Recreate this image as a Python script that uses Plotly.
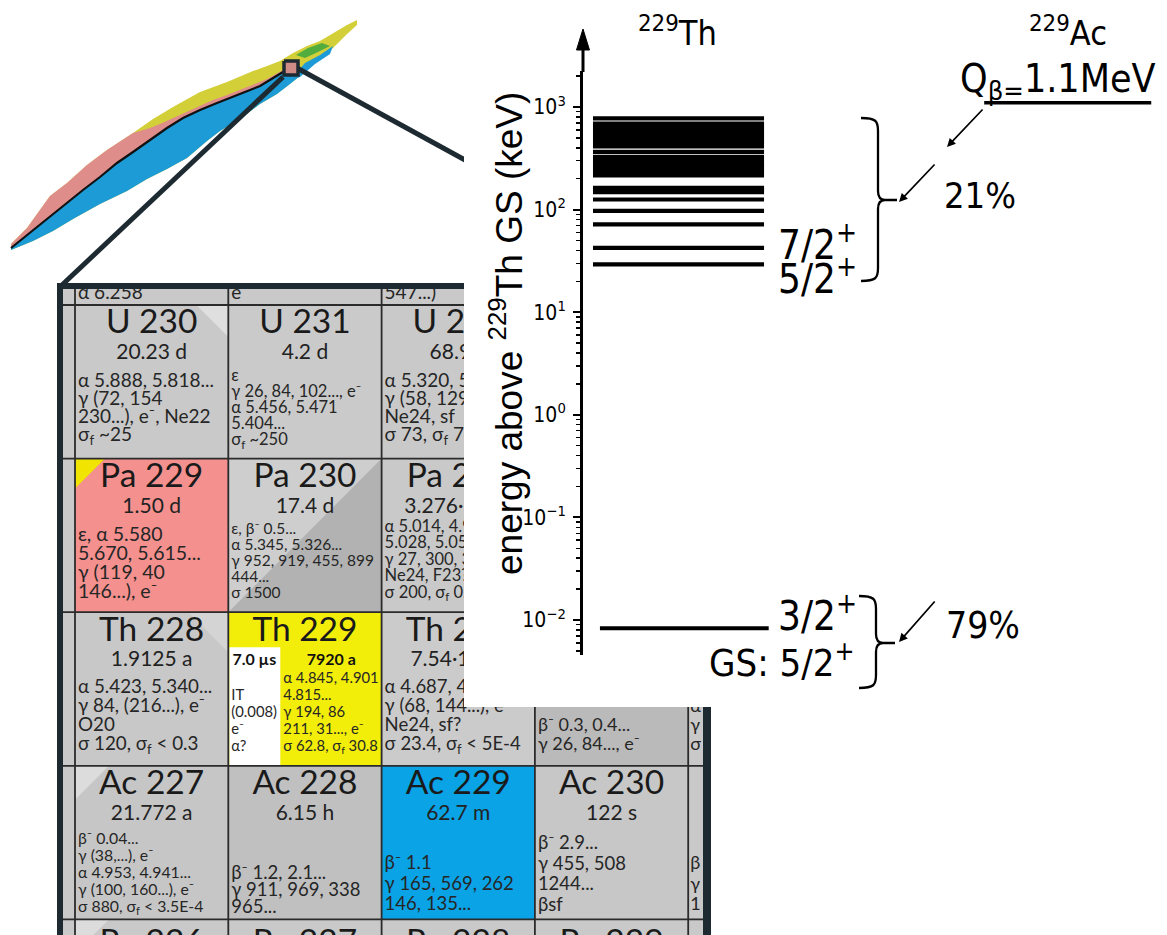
import numpy as np
import plotly.graph_objects as go

W, H = 1167, 935

# ---------------------------------------------------------------------------
# 229Th level scheme (energies above the 229Th ground state, keV)
# ---------------------------------------------------------------------------
th229_levels_keV = [29.19, 42.43, 71.83, 97.14, 125.4, 148.0, 155.0, 163.0,
                    216.0, 233.0, 246.0, 260.0, 275.0, 291.0, 308.0, 326.0,
                    366.0,
                    412.0, 441.0, 466.0, 493.0, 522.0, 552.0, 584.0, 617.0, 653.0, 690.0,
                    775.0]
th229_isomer_keV = 0.0083
ac229_q_beta_keV = 1100.0
branch_excited = "21%"
branch_isomer_gs = "79%"

ytick_vals = [1e-2, 1e-1, 1e0, 1e1, 1e2, 1e3]
ytick_text = ["10<sup>\u22122</sup>", "10<sup>\u22121</sup>", "10<sup>0</sup>",
              "10<sup>1</sup>", "10<sup>2</sup>", "10<sup>3</sup>"]

# ---------------------------------------------------------------------------
# Excerpt of the chart of nuclides around 229Th (rows: Z, columns: A)
# ---------------------------------------------------------------------------
cell_names = [["U 230", "U 231", "U 232", "U 233"],
              ["Pa 229", "Pa 230", "Pa 231", "Pa 232"],
              ["Th 228", "Th 229", "Th 230", "Th 231"],
              ["Ac 227", "Ac 228", "Ac 229", "Ac 230"]]
cell_halflives = [["20.23 d", "4.2 d", "68.9 a", "1.592\u00b710<sup>5</sup> a"],
                  ["1.50 d", "17.4 d", "3.276\u00b710<sup>4</sup> a", "1.31 d"],
                  ["1.9125 a", "", "7.54\u00b710<sup>4</sup> a", "25.5 h"],
                  ["21.772 a", "6.15 h", "62.7 m", "122 s"]]
cell_decays = [
    [["\u03b1 5.888, 5.818...", "\u03b3 (72, 154", "230...), e\u207b, Ne22", "\u03c3<sub>f</sub> ~25"],
     ["\u03b5", "\u03b3 26, 84, 102..., e\u207b", "\u03b1 5.456, 5.471", "5.404...", "\u03c3<sub>f</sub> ~250"],
     ["\u03b1 5.320, 5.263", "\u03b3 (58, 129...), e\u207b", "Ne24, sf", "\u03c3 73, \u03c3<sub>f</sub> 74"],
     []],
    [["\u03b5, \u03b1 5.580", "5.670, 5.615...", "\u03b3 (119, 40", "146...), e\u207b"],
     ["\u03b5, \u03b2\u207b 0.5...", "\u03b1 5.345, 5.326...", "\u03b3 952, 919, 455, 899", "444...", "\u03c3 1500"],
     ["\u03b1 5.014, 4.951...", "5.028, 5.059...", "\u03b3 27, 300, 303...", "Ne24, F23?", "\u03c3 200, \u03c3<sub>f</sub> 0.020"],
     []],
    [["\u03b1 5.423, 5.340...", "\u03b3 84, (216...), e\u207b", "O20", "\u03c3 120, \u03c3<sub>f</sub> < 0.3"],
     ["\u03b1 4.845, 4.901", "4.815...", "\u03b3 194, 86", "211, 31..., e\u207b", "\u03c3 62.8, \u03c3<sub>f</sub> 30.8"],
     ["\u03b1 4.687, 4.621...", "\u03b3 (68, 144...), e\u207b", "Ne24, sf?", "\u03c3 23.4, \u03c3<sub>f</sub> < 5E-4"],
     ["\u03b2\u207b 0.3, 0.4...", "\u03b3 26, 84..., e\u207b"]],
    [["\u03b2\u207b 0.04...", "\u03b3 (38,...), e\u207b", "\u03b1 4.953, 4.941...", "\u03b3 (100, 160...), e\u207b", "\u03c3 880, \u03c3<sub>f</sub> < 3.5E-4"],
     ["\u03b2\u207b 1.2, 2.1...", "\u03b3 911, 969, 338", "965..."],
     ["\u03b2\u207b 1.1", "\u03b3 165, 569, 262", "146, 135..."],
     ["\u03b2\u207b 2.9...", "\u03b3 455, 508", "1244...", "\u03b2sf"]],
]
th229_isomer_halflife = "7.0 \u00b5s"
th229_gs_halflife = "7920 a"
th229_isomer_decays = ["IT", "(0.008)", "e\u207b", "\u03b1?"]
row_above_last_lines = ["\u03b1 6.258", "e\u207b", "547...)"]
row_below_names = ["Ra 226", "Ra 227", "Ra 228", "Ra 229"]
col_right_fragments = [["\u03b1", "\u03b3", "\u03c3"], ["\u03b2", "\u03b3", "1"]]

# colour coding of the chart (grey: beta/other, pink: EC, yellow: alpha, blue: beta-)
GREY = "#c9c9c9"
cell_fill = [["#c9c9c9", "#cacaca", "#c9c9c9", "#c9c9c9"],
             ["#f4918f", "#cecece", "#c9c9c9", "#c9c9c9"],
             ["#c8c8c8", "#f3ed0a", "#cbcbcb", "#bababa"],
             ["#c6c6c6", "#c0c0c0", "#0aa3e6", "#c7c7c7"]]

# detail-line layout per cell: (offset of first line below cell top, line step, font size)
detail_layout = [[(77, 18, 19), (72, 16, 16.5), (77, 18, 19), (77, 18, 19)],
                 [(78, 19, 19.5), (72, 16, 15.5), (69, 16.5, 16.5), (77, 18, 19)],
                 [(76, 19, 18.8), (67, 17, 14.8), (76, 19, 18.5), (114, 19, 18)],
                 [(74, 17, 15.8), (109, 17, 18.5), (99, 20.5, 18.5), (79, 20.5, 18.5)]]

# the level-scheme panel is laid over the right part of the nuclide chart
PANEL_X, PANEL_Y = 464.0, 707.0

fig = go.Figure()


def poly(xs, ys, color, line_color=None, lw=0):
    fig.add_trace(go.Scatter(
        x=list(xs) + [xs[0]], y=list(ys) + [ys[0]], mode="lines", fill="toself",
        fillcolor=color, line=dict(width=lw, color=line_color or color),
        hoverinfo="skip", showlegend=False))


def rect(x0, y0, x1, y1, color):
    poly([x0, x1, x1, x0], [y0, y0, y1, y1], color)


def seg(xs, ys, color, width):
    fig.add_trace(go.Scatter(x=xs, y=ys, mode="lines", line=dict(color=color, width=width),
                             hoverinfo="skip", showlegend=False))


def text(xs, ys, labels, size, pos="middle right", color="#262626", family="Lato", reach=0):
    # leave out texts that would lie completely underneath the level-scheme panel
    keep = [i for i in range(len(labels)) if xs[i] - reach < PANEL_X or ys[i] + size * 0.5 > PANEL_Y]
    if not keep:
        return
    fig.add_trace(go.Scatter(x=[xs[i] for i in keep], y=[ys[i] for i in keep], mode="text",
                             text=[labels[i] for i in keep], textposition=pos,
                             textfont=dict(family=family, size=size, color=color),
                             hoverinfo="skip", showlegend=False, cliponaxis=True))


# ---------------------------------------------------------------------------
# Overview of the whole chart of nuclides (thin diagonal band)
# ---------------------------------------------------------------------------
band_top = [(11, 244), (27, 228), (50, 196), (67, 183), (87, 165), (107, 150), (133, 133),
            (153, 119), (173, 107), (187, 99), (200, 92), (227, 82), (253, 71), (267, 66),
            (280, 61), (293, 53), (307, 46), (320, 41), (333, 33), (347, 25), (357, 20)]
band_bottom = [(11, 250), (33, 241), (53, 231), (73, 219), (100, 204), (127, 191), (147, 179),
               (167, 169), (187, 158), (207, 141), (220, 131), (240, 119), (260, 104), (277, 94),
               (290, 84), (300, 76), (310, 66), (320, 59), (333, 48), (347, 34), (357, 25)]
stable_line = [(11, 248), (33, 230), (50, 217), (67, 203), (83, 190), (100, 177), (117, 163),
               (133, 152), (150, 140), (167, 128), (183, 118), (200, 110), (217, 103), (233, 97),
               (250, 90), (260, 86), (283, 72)]
pink_top = [(150, 128), (160, 124), (173, 118), (187, 112), (200, 106), (213, 100), (227, 95),
            (240, 90), (253, 85), (267, 79), (283, 70)]

outline = band_top + band_bottom[::-1]
poly([p[0] for p in outline], [p[1] for p in outline], "#d3cf38")
# neutron-rich side (beta minus)
blue = stable_line + [(295, 72), (300, 76)] + [p for p in band_bottom[::-1] if p[0] <= 290]
poly([p[0] for p in blue], [p[1] for p in blue], "#1c9bd6")
tail_blue = [(290, 80), (305, 63), (320, 55), (333, 46), (330, 54), (315, 64), (300, 77)]
poly([p[0] for p in tail_blue], [p[1] for p in tail_blue], "#1c9bd6")
# proton-rich side (EC / beta plus)
pink = [p for p in band_top if p[0] < 150] + pink_top + stable_line[::-1]
poly([p[0] for p in pink], [p[1] for p in pink], "#df8d8b")
green = [(296, 55), (308, 48), (322, 43), (330, 46), (318, 52), (305, 58)]
poly([p[0] for p in green], [p[1] for p in green], "#52ad3e")
seg([p[0] for p in stable_line], [p[1] for p in stable_line], "#111111", 2.2)

# zoom box and guide lines towards the detail view
FRAME = "#1e2a31"
seg([283, 62], [77, 285], FRAME, 5)
seg([297, 520], [68, 190], FRAME, 5)
poly([284, 298, 298, 284], [61, 61, 75, 75], "#cf8b86", FRAME, 3.5)

# ---------------------------------------------------------------------------
# Detail of the chart of nuclides
# ---------------------------------------------------------------------------
X0, CW = 75.0, 153.3
Y0, RH = 305.0, 153.6
LEFT, RIGHT, TOP, BOTTOM = 62.0, 703.0, 288.0, 940.0
col_edges = [LEFT] + [X0 + i * CW for i in range(5)] + [RIGHT]
row_edges = [TOP] + [Y0 + i * RH for i in range(5)] + [BOTTOM]

for ri in range(len(row_edges) - 1):
    for ci in range(len(col_edges) - 1):
        r, c = ri - 1, ci - 1
        color = cell_fill[r][c] if (0 <= r < 4 and 0 <= c < 4) else GREY
        rect(col_edges[ci], row_edges[ri], col_edges[ci + 1], row_edges[ri + 1], color)


def cell_box(r, c):
    return X0 + c * CW, Y0 + r * RH, X0 + (c + 1) * CW, Y0 + (r + 1) * RH


# corner marks and split colours
x0, y0, x1, y1 = cell_box(0, 0)
poly([x1 - 32, x1, x1], [y0, y0, y0 + 32], "#dfdfdf")
x0, y0, x1, y1 = cell_box(1, 0)
poly([x0, x0 + 30, x0], [y0, y0, y0 + 30], "#f1e400")
x0, y0, x1, y1 = cell_box(1, 1)
poly([x1, x1, x0], [y0, y1, y1], "#b2b2b2")
x0, y0, x1, y1 = cell_box(2, 0)
poly([x1 - 40, x1, x1], [y0, y0, y0 + 40], "#d4d4d4")
x0, y0, x1, y1 = cell_box(3, 0)
poly([x0, x0 + 34, x0], [y0, y0, y0 + 34], "#dcdcdc")
x0, y0, x1, y1 = cell_box(4, 0)
poly([x0, x0 + 34, x0], [y0, y0, y0 + 34], "#dcdcdc")
# isomer box inside 229Th
x0, y0, x1, y1 = cell_box(2, 1)
rect(x0 + 1, y0 + 35, x0 + 52, y1, "#ffffff")

# cell borders
gx, gy = [], []
for xe in col_edges[1:-1]:
    gx += [xe, xe, None]
    gy += [TOP, BOTTOM, None]
for ye in row_edges[1:-1]:
    gx += [LEFT, RIGHT, None]
    gy += [ye, ye, None]
seg(gx, gy, "#2b2b2b", 1.8)

# cell texts
nx, ny, nt = [], [], []
hx, hy, ht = [], [], []
for r in range(4):
    for c in range(4):
        x0, y0, x1, y1 = cell_box(r, c)
        cx = 0.5 * (x0 + x1)
        nx.append(cx); ny.append(y0 + 20); nt.append(cell_names[r][c])
        if cell_halflives[r][c]:
            hx.append(cx); hy.append(y0 + 49); ht.append(cell_halflives[r][c])
        start, step, size = detail_layout[r][c]
        lines = cell_decays[r][c]
        lx = x0 + (55 if (r, c) == (2, 1) else 3)
        text([lx] * len(lines), [y0 + start + i * step for i in range(len(lines))], lines, size)
text(nx, ny, nt, 33.5, pos="middle center", color="#1a1a1a", reach=50)
text(hx, hy, ht, 21, pos="middle center", color="#222222", reach=50)

x0, y0, x1, y1 = cell_box(2, 1)
text([x0 + 26, x0 + 103], [y0 + 49, y0 + 49],
     ["<b>" + th229_isomer_halflife + "</b>", "<b>" + th229_gs_halflife + "</b>"], 16,
     pos="middle center", color="#111111")
text([x0 + 3] * 4, [y0 + 84 + i * 17 for i in range(4)], th229_isomer_decays, 14.8)

# fragments of the neighbouring rows/columns
text([X0 + i * CW + 3 for i in range(3)], [294] * 3, row_above_last_lines, 19)
text([X0 + (i + 0.5) * CW for i in range(4)], [Y0 + 4 * RH + 25] * 4, row_below_names, 33.5,
     pos="middle center", color="#1a1a1a")
text([X0 + 4 * CW + 2] * 3, [Y0 + 2 * RH + 95 + i * 19 for i in range(3)], col_right_fragments[0], 18)
text([X0 + 4 * CW + 2] * 3, [Y0 + 3 * RH + 99 + i * 20.5 for i in range(3)], col_right_fragments[1], 18)

# outer frame of the detail view
rect(57, 283, 712, 289, FRAME)
rect(57, 283, 63, 940, FRAME)
rect(703, 283, 711, 940, FRAME)

# white panel carrying the level scheme
rect(PANEL_X, -5, 1172, PANEL_Y, "#ffffff")

# ---------------------------------------------------------------------------
# Level scheme on a logarithmic energy axis
# ---------------------------------------------------------------------------
AX_PX = 583.0                      # position of the energy axis
P_1E3, P_1EM2 = 107.0, 620.0       # pixel rows of 10^3 and 10^-2 keV
DEC = (P_1EM2 - P_1E3) / 5.0
Y_TOP, Y_BOT = 71.0, 655.0
y_range = [-2 - (Y_BOT - P_1EM2) / DEC, 3 + (P_1E3 - Y_TOP) / DEC]

lx, ly = [], []
for e in th229_levels_keV:
    lx += [0.0171, 0.310, None]
    ly += [e, e, None]
fig.add_trace(go.Scatter(x=lx, y=ly, mode="lines", line=dict(color="black", width=4.2),
                         xaxis="x3", yaxis="y3", hoverinfo="skip", showlegend=False))
fig.add_trace(go.Scatter(x=[0.029, 0.318], y=[th229_isomer_keV] * 2, mode="lines",
                         line=dict(color="black", width=4), xaxis="x3", yaxis="y3",
                         hoverinfo="skip", showlegend=False))
fig.add_trace(go.Scatter(x=[0.687, 0.973], y=[ac229_q_beta_keV] * 2, mode="lines",
                         line=dict(color="black", width=3.5), xaxis="x3", yaxis="y3",
                         hoverinfo="skip", showlegend=False, cliponaxis=False))


def pp(x, y):
    return x / W, 1 - y / H


def path(cmds):
    out = []
    for cmd in cmds:
        letter, pts = cmd[0], cmd[1:]
        coords = " ".join("%.5f,%.5f" % pp(*p) for p in pts)
        out.append(letter + " " + coords)
    return " ".join(out)


def brace(xe, xs, xt, ytop, ymid, ybot):
    r = 13
    return path([
        ("M", (xe, ytop)),
        ("C", (xs - 2, ytop), (xs, ytop + 3), (xs, ytop + r)),
        ("L", (xs, ymid - 9)),
        ("C", (xs, ymid - 3), (xs + 2, ymid), (xs + 7, ymid)),
        ("L", (xt, ymid)),
        ("M", (xs + 7, ymid)),
        ("C", (xs + 2, ymid), (xs, ymid + 3), (xs, ymid + 9)),
        ("L", (xs, ybot - r)),
        ("C", (xs, ybot - 3), (xs - 2, ybot), (xe, ybot)),
    ])


shapes = [
    dict(type="line", xref="paper", yref="paper", x0=pp(AX_PX, Y_TOP)[0], x1=pp(AX_PX, 48)[0],
         y0=pp(AX_PX, Y_TOP + 1)[1], y1=pp(AX_PX, 48)[1], line=dict(color="black", width=3)),
    dict(type="path", xref="paper", yref="paper",
         path=path([("M", (AX_PX, 29)), ("L", (AX_PX - 6.5, 50)), ("L", (AX_PX + 6.5, 50))]) + " Z",
         fillcolor="black", line=dict(color="black", width=1)),
    dict(type="path", xref="paper", yref="paper", path=brace(861, 878, 897, 118, 200, 281),
         line=dict(color="black", width=2.3)),
    dict(type="path", xref="paper", yref="paper", path=brace(859, 876, 895, 596, 643, 688),
         line=dict(color="black", width=2.3)),
]

NARROW = "DejaVu Sans Condensed, Roboto Condensed, Roboto, sans-serif"


def label(x, y, txt, size, xanchor="center", family=NARROW, **kw):
    px_, py_ = pp(x, y)
    return dict(x=px_, y=py_, xref="paper", yref="paper", text=txt, showarrow=False,
                xanchor=xanchor, yanchor="middle", font=dict(family=family, size=size, color="black"),
                **kw)


def arrow(xtip, ytip, xtail, ytail):
    px_, py_ = pp(xtip, ytip)
    return dict(x=px_, y=py_, xref="paper", yref="paper", text="", showarrow=True,
                ax=xtail - xtip, ay=ytail - ytip, arrowhead=2, arrowsize=1.0,
                arrowwidth=1.7, arrowcolor="black", standoff=0)


def spin(energy, txt, yshift):
    return dict(x=0.331, y=np.log10(energy), xref="x3", yref="y3", text=txt, showarrow=False,
                xanchor="left", yanchor="middle", yshift=yshift,
                font=dict(family=NARROW, size=40, color="black"))


annotations = [
    label(677, 31, "<sup>229</sup>Th", 34),
    label(1068, 31, "<sup>229</sup>Ac", 34),
    label(1058, 81, "Q<sub>\u03b2=</sub>1.1MeV", 39),
    label(980, 196, branch_excited, 36),
    label(983, 625, branch_isomer_gs, 37),
    label(857, 660, "GS: 5/2<sup>+</sup>", 38, xanchor="right"),
    spin(42.43, "7/2<sup>+</sup>", 6),
    spin(29.19, "5/2<sup>+</sup>", -12),
    spin(th229_isomer_keV, "3/2<sup>+</sup>", 15),
    label(506, 333, "energy above <sup>229</sup>Th GS (keV)", 37, family="Liberation Sans",
          textangle=-90),
    arrow(947, 147, 984, 108),
    arrow(899, 202, 936, 163),
    arrow(899, 642, 936, 600),
]

fig.update_layout(
    width=W, height=H, margin=dict(l=0, r=0, t=0, b=0),
    paper_bgcolor="white", plot_bgcolor="white", showlegend=False,
    xaxis=dict(domain=[0, 1], range=[0, W], visible=False, fixedrange=True),
    yaxis=dict(domain=[0, 1], range=[H, 0], visible=False, fixedrange=True),
    xaxis3=dict(domain=[AX_PX / W, 1], range=[0, 1], visible=False, anchor="y3", fixedrange=True),
    yaxis3=dict(domain=[1 - Y_BOT / H, 1 - Y_TOP / H], anchor="x3", type="log", range=y_range,
                showline=True, linecolor="black", linewidth=3, showgrid=False, zeroline=False,
                ticks="outside", ticklen=7, tickwidth=2, tickcolor="black",
                tickmode="array", tickvals=ytick_vals, ticktext=ytick_text,
                tickfont=dict(family=NARROW, size=21, color="black"), ticklabelstandoff=3,
                minor=dict(ticks="outside", ticklen=4, tickwidth=1.5, tickcolor="black",
                           dtick="D1", showgrid=False),
                fixedrange=True),
    shapes=shapes, annotations=annotations,
)

fig.write_html("out.html", config={"displayModeBar": False, "staticPlot": True})
